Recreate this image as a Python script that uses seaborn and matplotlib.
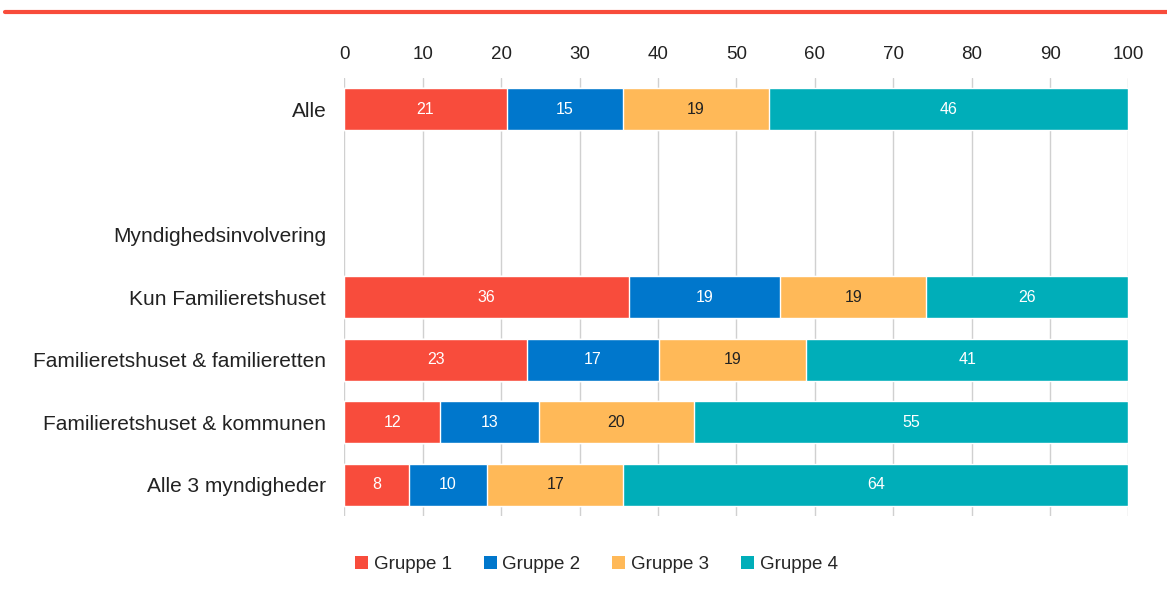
import matplotlib
matplotlib.use("Agg")
import matplotlib.pyplot as plt
import numpy as np
import pandas as pd
import seaborn as sns
from matplotlib.lines import Line2D
from matplotlib.patches import Patch

# Rows shown on the y axis (" " and "Myndighedsinvolvering" are empty spacer rows)
categories = [
    "Alle",
    " ",
    "Myndighedsinvolvering",
    "Kun Familieretshuset",
    "Familieretshuset & familieretten",
    "Familieretshuset & kommunen",
    "Alle 3 myndigheder",
]
data_rows = [
    "Alle",
    "Kun Familieretshuset",
    "Familieretshuset & familieretten",
    "Familieretshuset & kommunen",
    "Alle 3 myndigheder",
]
groups = ["Gruppe 1", "Gruppe 2", "Gruppe 3", "Gruppe 4"]
gruppe1 = [20.7, 36.3, 23.3, 12.2, 8.2]
gruppe2 = [14.8, 19.3, 16.8, 12.6, 10.0]
gruppe3 = [18.6, 18.6, 18.8, 19.8, 17.4]
gruppe4 = [45.9, 25.8, 41.1, 55.4, 64.4]

colors = ["#F84C3C", "#0077CC", "#FFB958", "#00AEB9"]
text_colors = ["white", "white", "#222222", "white"]

sns.set_theme(style="white")
plt.rcParams["font.family"] = ["Liberation Sans", "DejaVu Sans"]

df = pd.DataFrame(
    {"row": data_rows, groups[0]: gruppe1, groups[1]: gruppe2,
     groups[2]: gruppe3, groups[3]: gruppe4}
)
cum = df[groups].cumsum(axis=1)

fig = plt.figure(figsize=(11.67, 6.10), dpi=100)
ax = fig.add_axes([0.295, 0.154, 0.672, 0.718])

# stacked bars: draw cumulative totals from the last group back to the first
for i in reversed(range(len(groups))):
    sns.barplot(
        x=cum[groups[i]], y=df["row"], order=categories, orient="h",
        color=colors[i], width=0.67, saturation=1, ax=ax, zorder=2,
    )

# value labels
ypos = {c: k for k, c in enumerate(categories)}
for i, g in enumerate(groups):
    for r, v, c in zip(df["row"], df[g], cum[g]):
        ax.text(c - v / 2, ypos[r], f"{v:.0f}", ha="center", va="center",
                fontsize=11.5, color=text_colors[i], zorder=3)

ax.set_xlim(0, 100)
ax.set_ylim(len(categories) - 0.5, -0.5)
ax.set_xticks(np.arange(0, 101, 10))
ax.xaxis.tick_top()
ax.set_xlabel("")
ax.set_ylabel("")
ax.tick_params(axis="both", length=0, colors="#222222")
ax.tick_params(axis="x", pad=11, labelsize=13.5)
ax.tick_params(axis="y", pad=13, labelsize=15)
ax.grid(axis="x", color="#D0D0D0", linewidth=1, zorder=0)
ax.set_axisbelow(True)
for s in ax.spines.values():
    s.set_visible(False)

handles = [Patch(facecolor=c, edgecolor="none") for c in colors]
fig.legend(handles, groups, loc="center", bbox_to_anchor=(0.511, 0.074),
           ncol=4, frameon=False, fontsize=13.5, handlelength=0.7,
           handleheight=0.7, handletextpad=0.3, columnspacing=1.7)

# red rule across the top
fig.add_artist(Line2D([0.004, 1.0], [0.980, 0.980], color="#F84C3B",
                      linewidth=3, transform=fig.transFigure))

fig.savefig("out.png", dpi=100, facecolor="white")
